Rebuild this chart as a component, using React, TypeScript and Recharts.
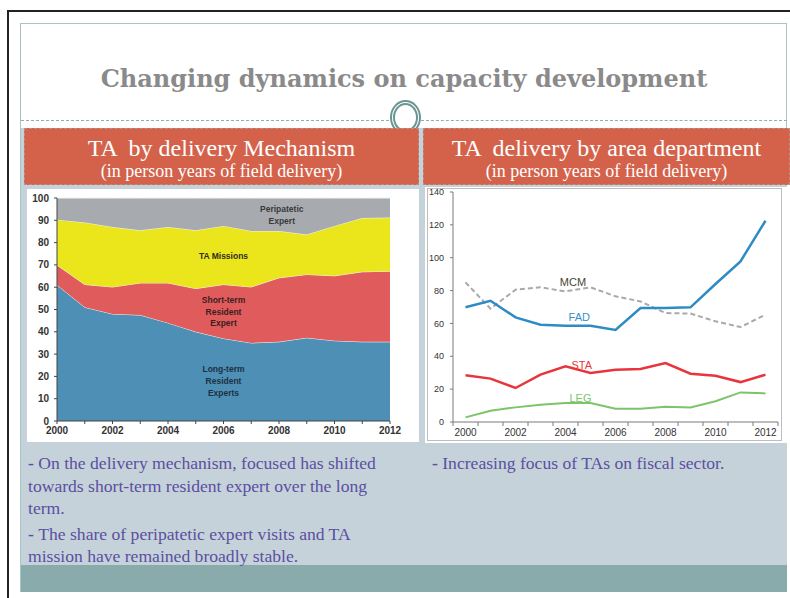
import React from 'react';
import { AreaChart, Area, LineChart, Line, XAxis, YAxis, ReferenceDot } from 'recharts';

// ---- Left chart: TA by delivery mechanism (stacked, % of person years)
const years = [2000, 2001, 2002, 2003, 2004, 2005, 2006, 2007, 2008, 2009, 2010, 2011, 2012];
const longTermResident = [61, 51, 48, 47.5, 44, 40, 37, 35, 35.5, 37.3, 36, 35.5, 35.5];
const shortTermResident = [8.9, 10.2, 12.1, 14.4, 17.9, 19.4, 24.2, 25.1, 28.7, 28.4, 29.1, 31.4, 31.7];
const taMissions = [20.4, 27.8, 26.9, 23.6, 25.1, 26.1, 26.3, 25.1, 21.0, 17.9, 22.4, 24.1, 24.0];
const peripateticExpert = [9.7, 11.0, 13.0, 14.5, 13.0, 14.5, 12.5, 14.8, 14.8, 16.4, 12.5, 9.0, 8.8];
const leftYTicks = [0, 10, 20, 30, 40, 50, 60, 70, 80, 90, 100];

// ---- Right chart: TA delivery by area department
const fad = [69.8, 73.8, 63.7, 59.2, 58.6, 58.6, 56.0, 69.4, 69.4, 69.8, 84.0, 97.8, 122.5];
const mcm = [85.0, 69.0, 80.5, 82.0, 79.5, 82.0, 76.5, 73.4, 66.3, 66.0, 61.3, 57.8, 65.3];
const sta = [28.4, 26.4, 20.7, 28.8, 33.9, 29.8, 31.8, 32.3, 35.9, 29.4, 28.2, 24.3, 28.8];
const leg = [2.8, 6.9, 8.9, 10.5, 11.6, 11.6, 8.1, 8.1, 9.3, 8.9, 12.6, 18.0, 17.4];
const rightYTicks = [0, 20, 40, 60, 80, 100, 120, 140];
const rightXTicks = [1999.5, 2000, 2000.5, 2001, 2001.5, 2002, 2002.5, 2003, 2003.5, 2004, 2004.5, 2005, 2005.5, 2006, 2006.5, 2007, 2007.5, 2008, 2008.5, 2009, 2009.5, 2010, 2010.5, 2011, 2011.5, 2012, 2012.5];

// ---- Slide texts
const slideTitle = 'Changing dynamics on capacity development';
const leftHeader = ['TA  by delivery Mechanism', '(in person years of field delivery)'];
const rightHeader = ['TA  delivery by area department', '(in person years of field delivery)'];
const leftNotes = [
  ['On the delivery mechanism, focused has shifted', 'towards short-term resident expert over the long', 'term.'],
  ['The share of peripatetic expert visits and TA', 'mission have remained broadly stable.'],
];
const rightNotes = [['Increasing focus of TAs on fiscal sector.']];

const leftData = years.map((y, i) => ({
  year: y,
  lt: longTermResident[i],
  st: shortTermResident[i],
  ta: taMissions[i],
  pe: peripateticExpert[i],
}));
const rightData = years.map((y, i) => ({ year: y, fad: fad[i], mcm: mcm[i], sta: sta[i], leg: leg[i] }));

const SANS = 'Liberation Sans, Arial, sans-serif';
const SERIF = 'Liberation Serif, Times New Roman, serif';

const MultiText = (p: any) => {
  const { cx, cy, lines, size, color, lh, weight } = p;
  const n = lines.length;
  return (
    <text x={cx} y={cy} textAnchor="middle" fontSize={size} fontWeight={weight} fill={color} fontFamily={SANS}>
      {lines.map((l: string, i: number) => (
        <tspan key={i} x={cx} y={cy + (i - (n - 1) / 2) * lh} dy="0.35em">{l}</tspan>
      ))}
    </text>
  );
};

const RightXTick = (props: any) => {
  const { x, y, payload } = props;
  const v = payload.value;
  if (Math.abs(v % 1) > 0.01) {
    return <line x1={x} x2={x} y1={y - 7} y2={y - 3} stroke="#7a7a7a" strokeWidth={1} />;
  }
  if (v % 2 !== 0) return <g />;
  return (
    <text x={x} y={y} dy="0.71em" textAnchor="middle" fontSize={10} fill="#333" fontFamily={SANS}>{v}</text>
  );
};

const Notes = ({ paras, left, top }: any) => {
  const out: any[] = [];
  let yy = top;
  paras.forEach((para: string[], pi: number) => {
    para.forEach((line: string, li: number) => {
      out.push(
        <div key={pi + '-' + li} style={{ position: 'absolute', left, top: yy, whiteSpace: 'nowrap', fontFamily: SERIF, fontSize: 17.6, color: '#5a4fa2', lineHeight: '20px' }}>
          {li === 0 ? <span style={{ fontWeight: 'bold' }}>- </span> : null}
          {line}
        </div>
      );
      yy += 22.5;
    });
    yy += 3;
  });
  return <>{out}</>;
};

export default function App() {
  return (
    <div style={{ position: 'absolute', left: 0, top: 0, width: 790, height: 598, background: '#fff', overflow: 'hidden' }}>
      {/* outer dark frame */}
      <div style={{ position: 'absolute', left: 7, top: 10, width: 820, height: 620, borderLeft: '2px solid #222', borderTop: '2px solid #222' }} />
      {/* inner slide frame */}
      <div style={{ position: 'absolute', left: 20, top: 23, width: 767, height: 569, border: '1px solid #a9c4c4', boxSizing: 'border-box' }} />
      {/* title */}
      <div style={{ position: 'absolute', left: 20, top: 64, width: 768, textAlign: 'center', fontFamily: 'DejaVu Serif, serif', fontWeight: 'bold', fontSize: 24, color: '#8a8a8a', lineHeight: '30px' }}>
        {slideTitle}
      </div>
      {/* dotted rule */}
      <div style={{ position: 'absolute', left: 21, top: 120, width: 368, borderTop: '1px dashed #93aeb0' }} />
      <div style={{ position: 'absolute', left: 421, top: 120, width: 366, borderTop: '1px dashed #93aeb0' }} />
      {/* ornament circle */}
      <div style={{ position: 'absolute', left: 390, top: 100, width: 31, height: 35, borderRadius: '50%', border: '5px double #6b9494', background: '#fff', boxSizing: 'border-box' }} />
      {/* content background */}
      <div style={{ position: 'absolute', left: 21, top: 128, width: 766, height: 437, background: '#c6d2d9' }} />
      <div style={{ position: 'absolute', left: 21, top: 565, width: 766, height: 27, background: '#89abab' }} />
      {/* headers */}
      <div style={{ position: 'absolute', left: 24, top: 128, width: 395, height: 57, background: '#d4624b', border: '1px dashed #b98f86', boxSizing: 'border-box', color: '#fff', fontFamily: SERIF, textAlign: 'center', whiteSpace: 'pre' }}>
        <div style={{ fontSize: 24, lineHeight: '26px', marginTop: 6 }}>{leftHeader[0]}</div>
        <div style={{ fontSize: 18, lineHeight: '20px' }}>{leftHeader[1]}</div>
      </div>
      <div style={{ position: 'absolute', left: 423, top: 128, width: 367, height: 57, background: '#d4624b', border: '1px dashed #b98f86', boxSizing: 'border-box', color: '#fff', fontFamily: SERIF, textAlign: 'center', whiteSpace: 'pre' }}>
        <div style={{ fontSize: 24, lineHeight: '26px', marginTop: 6 }}>{rightHeader[0]}</div>
        <div style={{ fontSize: 18, lineHeight: '20px' }}>{rightHeader[1]}</div>
      </div>
      {/* chart panels */}
      <div style={{ position: 'absolute', left: 27, top: 189, width: 392, height: 253, background: '#fff' }} />
      <div style={{ position: 'absolute', left: 425, top: 187, width: 363, height: 256, background: '#fff' }} />
      <div style={{ position: 'absolute', left: 427, top: 188, width: 355, height: 253, border: '1px solid #bdbdbd', boxSizing: 'border-box' }} />

      {/* Left chart */}
      <div style={{ position: 'absolute', left: 27, top: 189 }}>
        <AreaChart width={392} height={253} data={leftData} margin={{ top: 9, right: 29, bottom: 0, left: 0 }}>
          <XAxis dataKey="year" type="number" domain={[2000, 2012]} ticks={years} interval={0}
            tickFormatter={(v: number) => (v % 2 === 0 ? String(v) : '')}
            tick={{ fontSize: 10, fill: '#333', fontFamily: SANS, fontWeight: 'bold' }}
            axisLine={{ stroke: '#444' }} tickLine={{ stroke: '#444' }} tickSize={3} tickMargin={3} height={21} />
          <YAxis type="number" domain={[0, 100]} ticks={leftYTicks} interval={0} width={30}
            tick={{ fontSize: 10, fill: '#333', fontFamily: SANS, fontWeight: 'bold' }}
            axisLine={{ stroke: '#444' }} tickLine={{ stroke: '#444' }} tickSize={3} tickMargin={5} />
          <Area type="linear" dataKey="lt" stackId="1" fill="#4d8fb5" fillOpacity={1} stroke="#f2f2f2" strokeWidth={1} isAnimationActive={false} />
          <Area type="linear" dataKey="st" stackId="1" fill="#e05c5c" fillOpacity={1} stroke="#f2f2f2" strokeWidth={1} isAnimationActive={false} />
          <Area type="linear" dataKey="ta" stackId="1" fill="#ebe61c" fillOpacity={1} stroke="#f2f2f2" strokeWidth={1} isAnimationActive={false} />
          <Area type="linear" dataKey="pe" stackId="1" fill="#a7aaaf" fillOpacity={1} stroke="#f2f2f2" strokeWidth={1} isAnimationActive={false} />
          <ReferenceDot x={2008.1} y={92.4} r={0} isFront shape={(p: any) => <MultiText cx={p.cx} cy={p.cy} lines={['Peripatetic', 'Expert']} size={8.5} lh={12} color="#3a3a3a" weight="bold" />} />
          <ReferenceDot x={2006} y={74} r={0} isFront shape={(p: any) => <MultiText cx={p.cx} cy={p.cy} lines={['TA Missions']} size={8.5} lh={12} color="#2e2e1e" weight="bold" />} />
          <ReferenceDot x={2006} y={48.9} r={0} isFront shape={(p: any) => <MultiText cx={p.cx} cy={p.cy} lines={['Short-term', 'Resident', 'Expert']} size={8.5} lh={11.5} color="#3a2020" weight="bold" />} />
          <ReferenceDot x={2006} y={17.9} r={0} isFront shape={(p: any) => <MultiText cx={p.cx} cy={p.cy} lines={['Long-term', 'Resident', 'Experts']} size={8.5} lh={12} color="#1f2f45" weight="bold" />} />
        </AreaChart>
      </div>

      {/* Right chart */}
      <div style={{ position: 'absolute', left: 425, top: 187 }}>
        <LineChart width={363} height={256} data={rightData} margin={{ top: 5, right: 10, bottom: 0, left: 0 }}>
          <XAxis dataKey="year" type="number" domain={[1999.5, 2012.5]} ticks={rightXTicks} interval={0}
            tick={<RightXTick />} tickLine={false} axisLine={{ stroke: '#7a7a7a' }} tickSize={4} tickMargin={3} height={21} />
          <YAxis type="number" domain={[0, 140]} ticks={rightYTicks} interval={0} width={28}
            tick={{ fontSize: 9, fill: '#333', fontFamily: SANS }}
            axisLine={{ stroke: '#7a7a7a' }} tickLine={{ stroke: '#7a7a7a' }} tickSize={3} tickMargin={6} />
          <Line type="linear" dataKey="mcm" stroke="#a9a9a9" strokeWidth={2} strokeDasharray="5 3" dot={false} isAnimationActive={false} />
          <Line type="linear" dataKey="fad" stroke="#2f8bc3" strokeWidth={2.5} dot={false} isAnimationActive={false} />
          <Line type="linear" dataKey="sta" stroke="#e8353d" strokeWidth={2.5} dot={false} isAnimationActive={false} />
          <Line type="linear" dataKey="leg" stroke="#7cc46a" strokeWidth={2} dot={false} isAnimationActive={false} />
          <ReferenceDot x={2004.3} y={85.2} r={0} isFront shape={(p: any) => <MultiText cx={p.cx} cy={p.cy} lines={['MCM']} size={11} lh={12} color="#4a4535" weight="normal" />} />
          <ReferenceDot x={2004.55} y={63.9} r={0} isFront shape={(p: any) => <MultiText cx={p.cx} cy={p.cy} lines={['FAD']} size={11} lh={12} color="#3b8fc8" weight="normal" />} />
          <ReferenceDot x={2004.65} y={34.7} r={0} isFront shape={(p: any) => <MultiText cx={p.cx} cy={p.cy} lines={['STA']} size={11} lh={12} color="#e23a3a" weight="normal" />} />
          <ReferenceDot x={2004.6} y={14.6} r={0} isFront shape={(p: any) => <MultiText cx={p.cx} cy={p.cy} lines={['LEG']} size={11} lh={12} color="#7dc36b" weight="normal" />} />
        </LineChart>
      </div>

      {/* Notes */}
      <Notes paras={leftNotes} left={28} top={453} />
      <Notes paras={rightNotes} left={432} top={453} />
    </div>
  );
}
